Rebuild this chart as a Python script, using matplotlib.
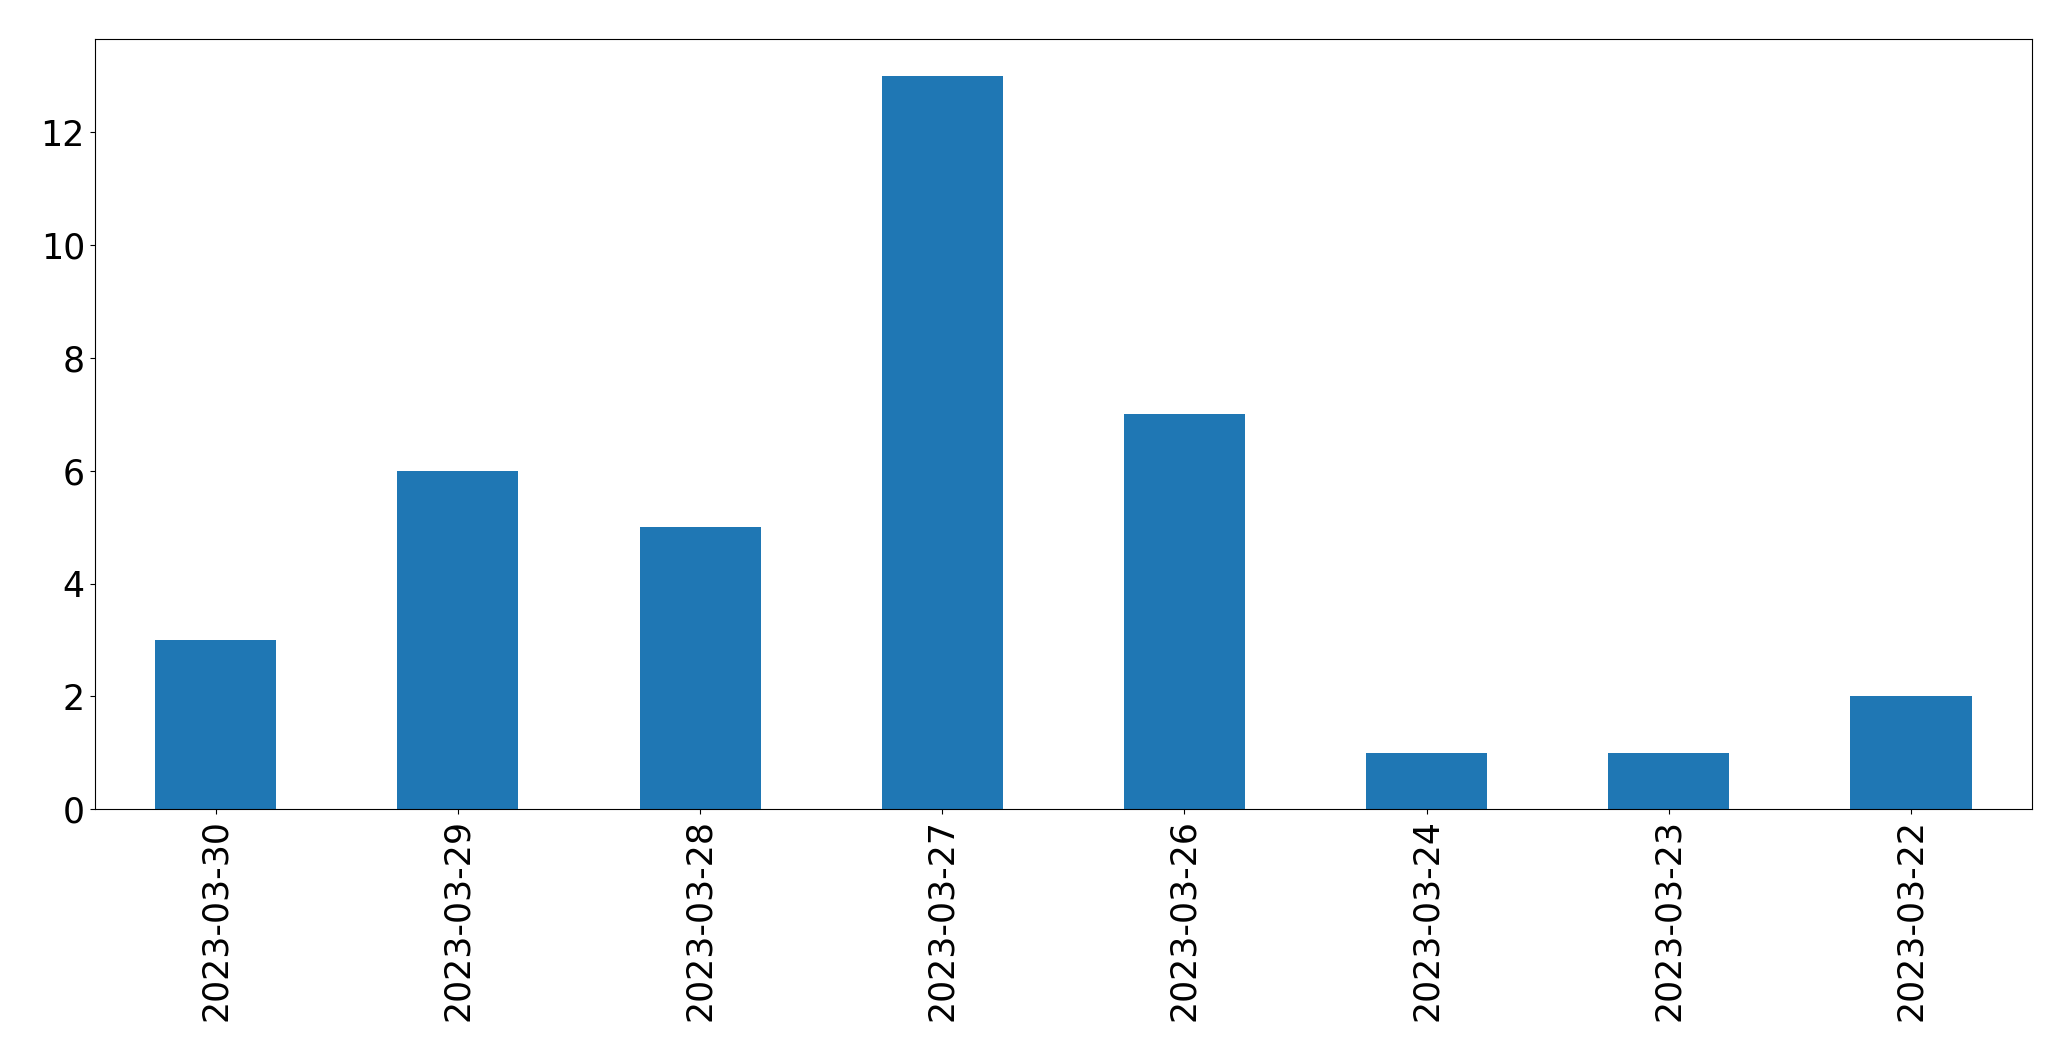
import matplotlib
matplotlib.use("Agg")
import matplotlib.pyplot as plt

dates = ["2023-03-30", "2023-03-29", "2023-03-28", "2023-03-27",
         "2023-03-26", "2023-03-24", "2023-03-23", "2023-03-22"]
counts = [3, 6, 5, 13, 7, 1, 1, 2]

fig = plt.figure(figsize=(20.71, 10.61), dpi=100)
ax = fig.add_axes([0.0457, 0.2372, 0.9355, 0.7258])

x = range(len(dates))
ax.bar(x, counts, width=0.5, color="#1f77b4")
ax.set_xlim(-0.5, len(dates) - 0.5)
ax.set_ylim(0, max(counts) * 1.05)
ax.set_xticks(list(x))
ax.set_xticklabels(dates, rotation=90)
ax.tick_params(labelsize=25)

fig.savefig("out.png", dpi=100)
